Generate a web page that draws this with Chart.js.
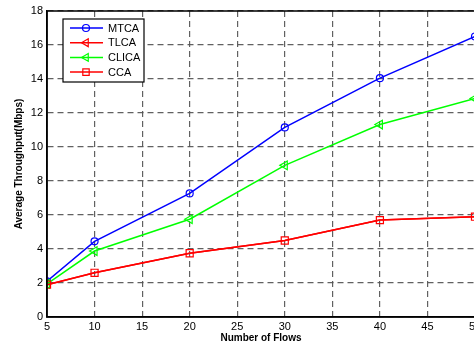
<!DOCTYPE html>
<html>
<head>
<meta charset="utf-8">
<script src="https://cdn.jsdelivr.net/npm/chart.js@4/dist/chart.umd.min.js"></script>
<style>
  html, body { margin: 0; padding: 0; background: #fff; overflow: hidden; }
  #wrap { width: 474px; height: 344px; overflow: hidden; position: relative; }
  canvas { position: absolute; left: 0; top: 0; }
</style>
</head>
<body>
<div id="wrap"><canvas id="chart" width="500" height="344"></canvas></div>
<script>
const flows = [5, 10, 20, 30, 40, 50];
const mtca  = [2.1, 4.45, 7.27, 11.15, 14.05, 16.5];
const tlca  = [1.9, 2.6, 3.75, 4.5, 5.7, 5.9];
const clica = [1.95, 3.88, 5.75, 8.92, 11.32, 12.85];
const cca   = [1.9, 2.6, 3.75, 4.5, 5.7, 5.9];
const xTicks = [5, 10, 15, 20, 25, 30, 35, 40, 45, 50];
const yTicks = [0, 2, 4, 6, 8, 10, 12, 14, 16, 18];

function pts(vals) {
    return flows.map((f, i) => ({ x: f, y: vals[i] }));
}

function series(label, vals, color, style, rot, radius, order) {
    return {
        label: label,
        data: pts(vals),
        borderColor: color,
        backgroundColor: color,
        borderWidth: 1.5,
        pointStyle: style,
        pointRotation: rot,
        pointRadius: radius,
        legendRadius: style === 'rect' ? 4.5 : (style === 'triangle' ? 4.5 : 3.5),
        pointBorderColor: color,
        pointBackgroundColor: 'rgba(0,0,0,0)',
        pointBorderWidth: 1.2,
        tension: 0,
        order: order
    };
}

// black frame round the plot + MATLAB style legend box
const frameAndLegend = {
    id: 'frameAndLegend',
    afterDatasetsDraw(chart) {
        const ctx = chart.ctx;
        const a = chart.chartArea;
        ctx.save();
        ctx.strokeStyle = '#000';
        ctx.lineWidth = 1.5;
        ctx.strokeRect(a.left, a.top, a.right - a.left, a.bottom - a.top);

        // legend
        const lx = 63, ly = 19, lw = 81, lh = 63;
        ctx.fillStyle = '#fff';
        ctx.fillRect(lx, ly, lw, lh);
        ctx.lineWidth = 1.2;
        ctx.strokeRect(lx, ly, lw, lh);
        ctx.font = '11px "Liberation Sans", Arial, sans-serif';
        ctx.textBaseline = 'middle';
        chart.data.datasets.forEach((ds, i) => {
            const y = ly + 9 + i * 14.7;
            ctx.strokeStyle = ds.borderColor;
            ctx.lineWidth = 1.5;
            ctx.beginPath();
            ctx.moveTo(lx + 7, y);
            ctx.lineTo(lx + 40, y);
            ctx.stroke();
            ctx.lineWidth = 1.2;
            ctx.fillStyle = 'rgba(0,0,0,0)';
            Chart.helpers.drawPoint(ctx, {
                pointStyle: ds.pointStyle,
                rotation: ds.pointRotation,
                radius: ds.legendRadius,
                borderWidth: 1.2
            }, lx + 23, y);
            ctx.fillStyle = '#000';
            ctx.fillText(ds.label, lx + 45, y + 0.5);
        });
        ctx.restore();
    }
};

const gridColor = 'rgba(80,80,80,0.9)';
const font = '"Liberation Sans", Arial, sans-serif';

new Chart(document.getElementById('chart'), {
    type: 'line',
    data: {
        datasets: [
            series('MTCA', mtca, '#0000ff', 'circle', 0, 3.5, 3),
            series('TLCA', tlca, '#ff0000', 'triangle', -90, 0, 4),
            series('CLICA', clica, '#00ff00', 'triangle', -90, 5, 2),
            series('CCA', cca, '#ff0000', 'rect', 0, 5, 1)
        ]
    },
    options: {
        responsive: false,
        animation: false,
        layout: { padding: { left: 0, top: 11, right: 25, bottom: 0 } },
        plugins: { legend: { display: false }, tooltip: { enabled: false } },
        scales: {
            x: {
                type: 'linear',
                min: 5,
                max: 50,
                afterBuildTicks: s => { s.ticks = xTicks.map(v => ({ value: v })); },
                afterFit: s => { s.height = 27; },
                grid: { color: gridColor, lineWidth: 1.2, drawTicks: false },
                border: { display: true, color: '#000', width: 1.5, dash: [6, 4] },
                ticks: {
                    color: '#000',
                    padding: 3,
                    maxRotation: 0,
                    font: { family: font, size: 11 }
                },
                title: {
                    display: true,
                    text: 'Number of Flows',
                    color: '#000',
                    padding: { top: 0, bottom: 0 },
                    font: { family: font, size: 10, weight: 'bold' }
                }
            },
            y: {
                min: 0,
                max: 18,
                afterBuildTicks: s => { s.ticks = yTicks.map(v => ({ value: v })); },
                afterFit: s => { s.width = 47; },
                grid: { color: gridColor, lineWidth: 1.2, drawTicks: false },
                border: { display: true, color: '#000', width: 1.5, dash: [6, 4] },
                ticks: {
                    color: '#000',
                    padding: 4,
                    font: { family: font, size: 11 }
                },
                title: {
                    display: true,
                    text: 'Average Throughput(Mbps)',
                    color: '#000',
                    padding: { top: 13, bottom: 0 },
                    font: { family: font, size: 10, weight: 'bold' }
                }
            }
        }
    },
    plugins: [frameAndLegend]
});
</script>
</body>
</html>
